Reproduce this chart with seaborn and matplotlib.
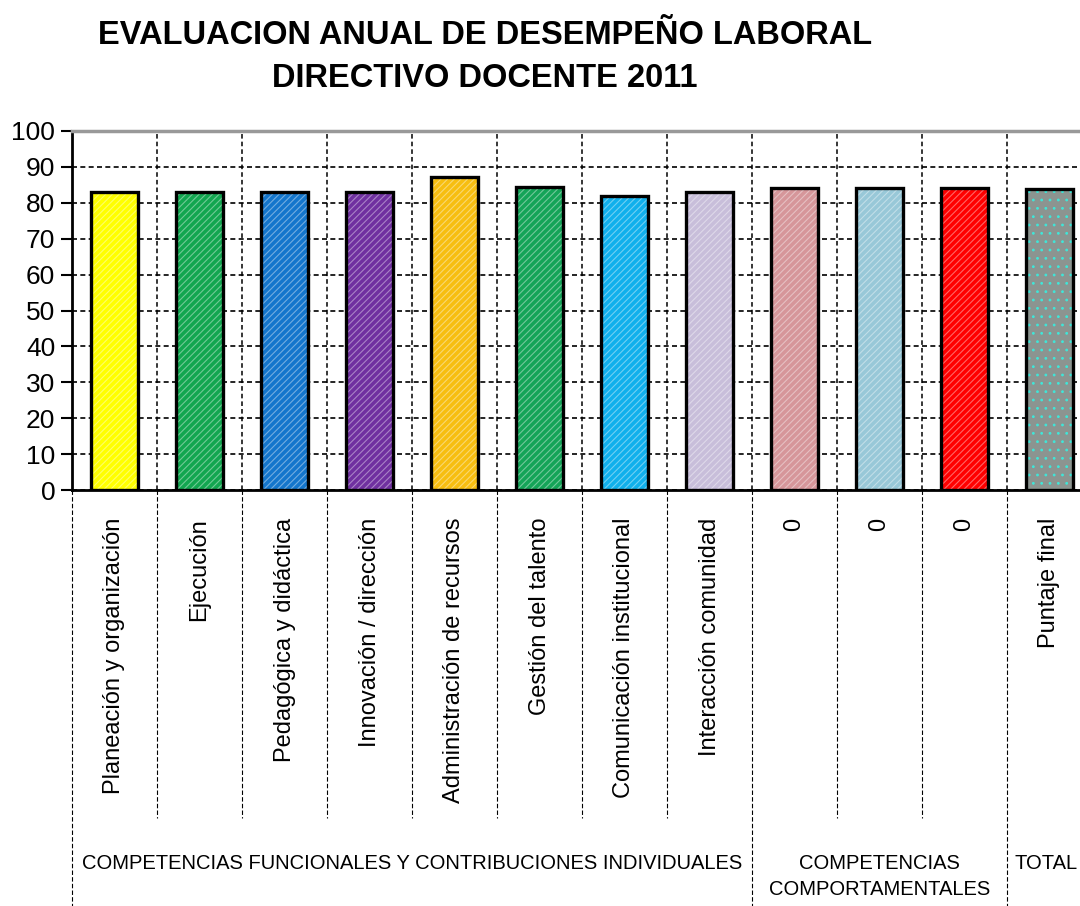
import matplotlib
matplotlib.use("Agg")
import matplotlib.pyplot as plt
import matplotlib.transforms as mtransforms
from matplotlib.colors import to_rgb
import seaborn as sns

categories = [
    "Planeación y organización", "Ejecución", "Pedagógica y didáctica",
    "Innovación / dirección", "Administración de recursos", "Gestión del talento",
    "Comunicación institucional", "Interacción comunidad", "0", "0 ", "0  ",
    "Puntaje final",
]
values = [83.0, 83.0, 83.0, 83.0, 87.2, 84.3, 82.0, 83.0, 84.1, 84.1, 84.1, 83.8]
colors = ["#FFFF00", "#12A650", "#1476CC", "#7030A0", "#F7BE10", "#14A458",
          "#10B0EC", "#C8BEDA", "#D6969A", "#98C8D8", "#FF0000", "#8C9490"]
hatches = ["/////"] * 11 + [".."]
groups = ["COMPETENCIAS FUNCIONALES Y CONTRIBUCIONES INDIVIDUALES",
          "COMPETENCIAS\nCOMPORTAMENTALES", "TOTAL"]
group_sizes = [8, 3, 1]
title = "EVALUACION ANUAL DE DESEMPEÑO LABORAL\nDIRECTIVO DOCENTE 2011"

sns.set_theme(style="white")
plt.rcParams["font.family"] = ["Liberation Sans", "DejaVu Sans"]
plt.rcParams["text.color"] = "black"
plt.rcParams["xtick.color"] = "black"
plt.rcParams["ytick.color"] = "black"
plt.rcParams["hatch.linewidth"] = 0.8

fig = plt.figure(figsize=(10.8, 9.06), dpi=100)
ax = fig.add_axes([72 / 1080, 416 / 906, 1020 / 1080, 359 / 906])

x_pos = list(range(len(categories)))
# colored, hatched fill
sns.barplot(x=x_pos, y=values, hue=x_pos, palette=colors, saturation=1,
            legend=False, width=0.55, linewidth=0, ax=ax, zorder=3)
for i, (p, h) in enumerate(zip(ax.patches, hatches)):
    p.set_hatch(h)
    if h == "..":
        p.set_edgecolor("#3FE6D8")
    else:
        r, g, b = to_rgb(colors[i])
        p.set_edgecolor((0.6 * r + 0.4, 0.6 * g + 0.4, 0.6 * b + 0.4))
# black outline
n_fill = len(ax.patches)
sns.barplot(x=x_pos, y=values, fill=False, color="black", width=0.55,
            linewidth=2.4, ax=ax, zorder=4)
for p in ax.patches[n_fill:]:
    p.set_edgecolor("black")
    p.set_hatch(None)

ax.set_ylim(0, 100)
ax.set_xlim(-0.5, len(categories) - 0.5)
ax.set_yticks(range(0, 101, 10))
ax.tick_params(axis="y", direction="out", length=8, width=1.5, color="black",
               labelsize=19, pad=4, left=True)
ax.tick_params(axis="x", length=0, pad=20)
ax.set_xticks(x_pos)
ax.set_xticklabels([c.strip() for c in categories], rotation=90, fontsize=17,
                   va="top", ha="center")
ax.set_xlabel("")
ax.set_ylabel("")

ax.grid(axis="y", color="black", linestyle=(0, (3, 2)), linewidth=1.2, zorder=0)
ax.set_axisbelow(True)
for b in [i + 0.5 for i in range(len(categories) - 1)]:
    ax.axvline(b, color="black", linestyle=(0, (3, 2)), linewidth=1.1, zorder=0)

ax.spines["left"].set_color("black")
ax.spines["left"].set_linewidth(2)
ax.spines["bottom"].set_color("black")
ax.spines["bottom"].set_linewidth(2)
ax.spines["top"].set_color("#999999")
ax.spines["top"].set_linewidth(2.5)
ax.spines["right"].set_visible(False)

# separators and group labels below the axis
trans = mtransforms.blended_transform_factory(ax.transData, ax.transAxes)
group_edges = [-0.5]
for s in group_sizes:
    group_edges.append(group_edges[-1] + s)
for b in [i + 0.5 for i in range(len(categories) - 1)]:
    bottom = -1.2 if b in group_edges else -0.914
    ax.plot([b, b], [0, bottom], transform=trans, color="black",
            linestyle=(0, (4, 2)), linewidth=0.8, clip_on=False)
ax.plot([-0.5, -0.5], [0, -1.2], transform=trans, color="black",
        linestyle=(0, (4, 2)), linewidth=0.8, clip_on=False)

for k, (g, lo, hi) in enumerate(zip(groups, group_edges[:-1], group_edges[1:])):
    if k == len(groups) - 1:
        # last group is cut by the figure edge: anchor at its left separator
        ax.text(lo + 0.09, -1.015, g, transform=trans, ha="left", va="top",
                fontsize=14.5, linespacing=1.45)
    else:
        ax.text((lo + hi) / 2, -1.015, g, transform=trans, ha="center", va="top",
                fontsize=14.5, linespacing=1.45)

fig.text(485 / 1080, 1 - 20 / 906, title, ha="center", va="top", fontsize=23.5,
         fontweight="bold", linespacing=1.5)

plt.savefig("out.png", dpi=100)
